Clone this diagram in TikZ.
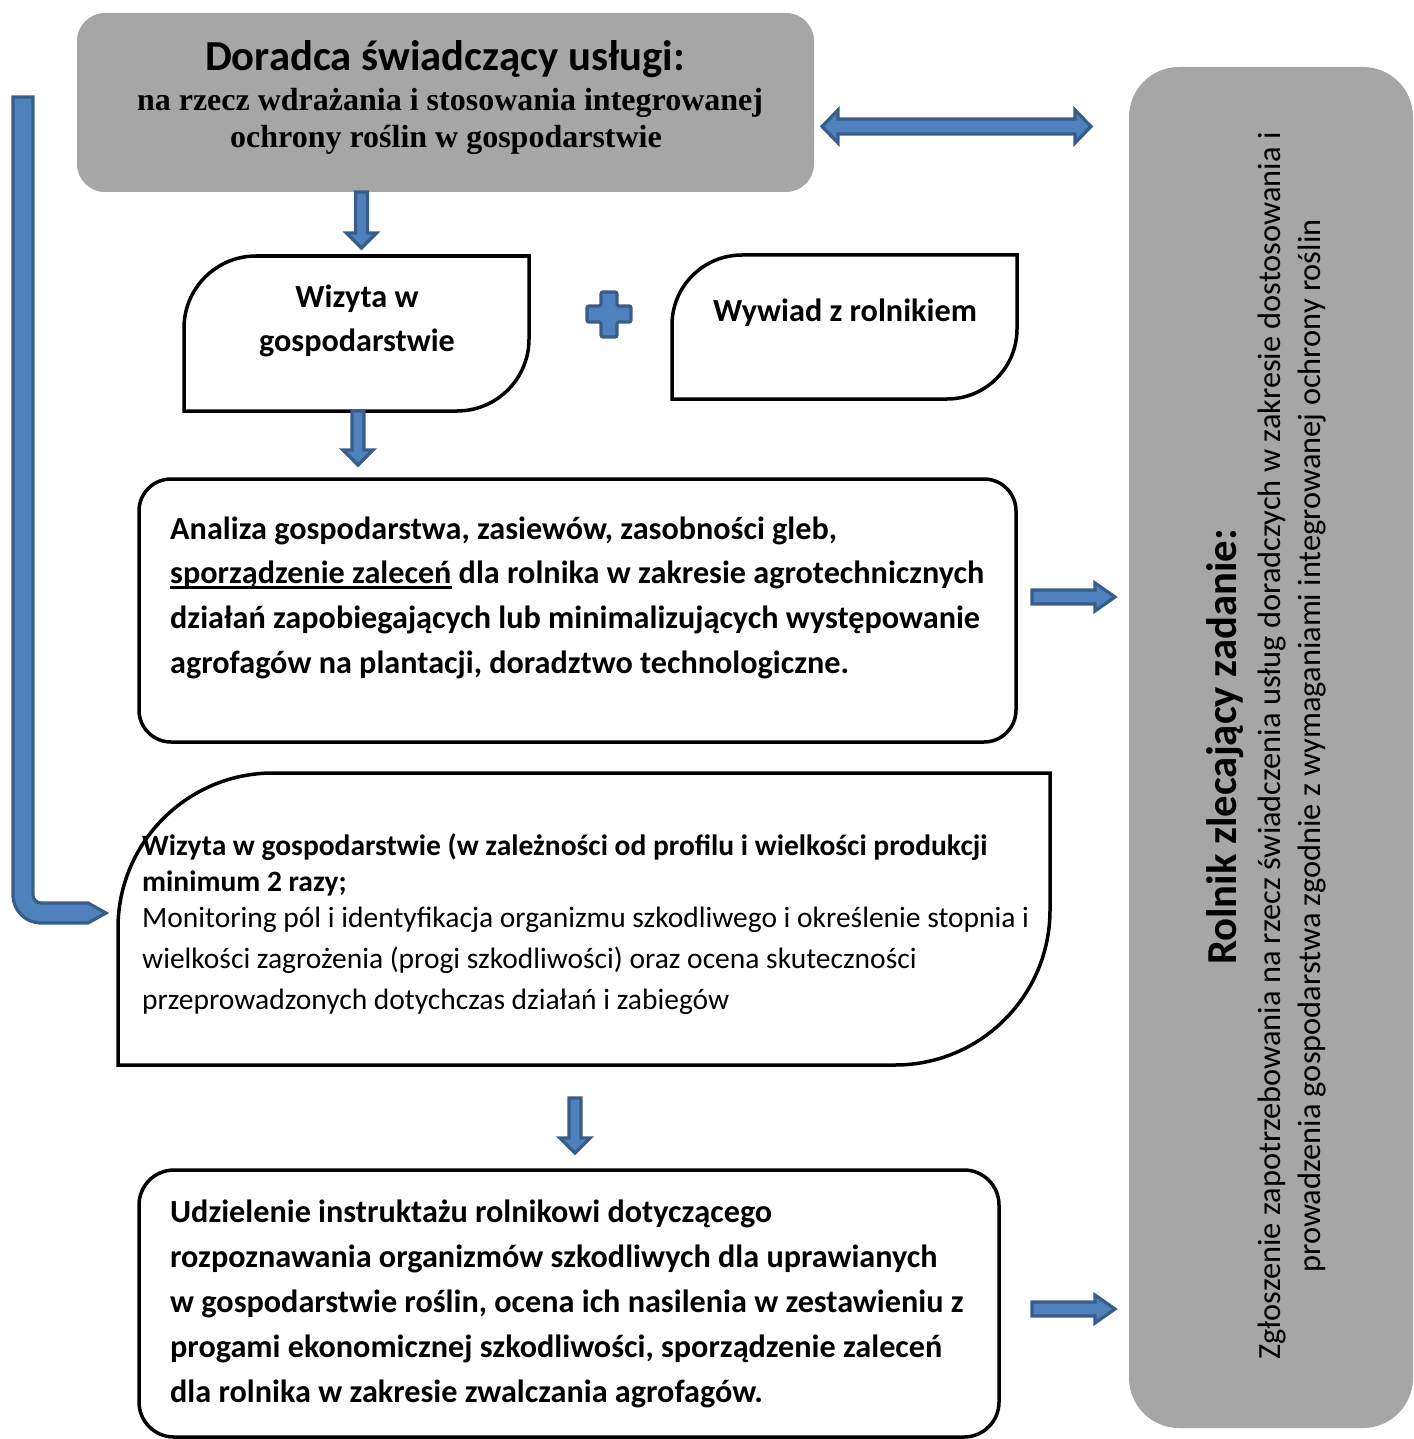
\documentclass[tikz,border=0pt]{standalone}
\usepackage{fontspec}
\setmainfont{Carlito}
\newfontfamily\timesf{Liberation Serif}
\definecolor{grayfill}{HTML}{A6A6A6}
\definecolor{arrfill}{HTML}{4F81BD}
\definecolor{arrline}{HTML}{385D8A}
\newcommand{\thickul}[1]{\setbox0\hbox{#1}\rlap{\vrule height -3.4pt depth 5.6pt width \wd0}\box0\relax}
\newcommand{\blockright}[3]{%
 \draw[arr] (#1,{#3-7}) -- ({#2-20},{#3-7}) -- ({#2-20},{#3-14}) -- (#2,#3) -- ({#2-20},{#3+14}) -- ({#2-20},{#3+7}) -- (#1,{#3+7}) -- cycle;}
\newcommand{\blockdown}[3]{%
 \draw[arr] ({#1-6},#2) -- ({#1+6},#2) -- ({#1+6},{#3-15}) -- ({#1+15},{#3-15}) -- (#1,#3) -- ({#1-15},{#3-15}) -- ({#1-6},{#3-15}) -- cycle;}
\newcommand{\diagbox}[5]{%
 \draw[box] (#1,#4) -- (#1,{#2+#5}) .. controls (#1,{#2+0.4477*#5}) and ({#1+0.4477*#5},#2) .. ({#1+#5},#2) -- (#3,#2) -- (#3,{#4-#5}) .. controls (#3,{#4-0.4477*#5}) and ({#3-0.4477*#5},#4) .. ({#3-#5},#4) -- cycle;}
\begin{document}
\begin{tikzpicture}[x=1pt,y=-1pt,
  arr/.style={fill=arrfill,draw=arrline,line width=3.2pt,line join=miter},
  box/.style={draw=black,line width=3.5pt},
  gbox/.style={fill=grayfill,draw=none,inner sep=0pt},
  wbox/.style={box,fill=white,inner sep=0pt},
  tb/.style={inner sep=0pt,font=\fontsize{32.2}{45}\selectfont\bfseries},
  tbs/.style={inner sep=0pt,font=\fontsize{29.5}{36}\selectfont\bfseries},
  tr/.style={inner sep=0pt,font=\fontsize{29.5}{41}\selectfont},
  tbig/.style={inner sep=0pt,font=\fontsize{42.7}{50}\selectfont\bfseries},
  tserif/.style={inner sep=0pt,font=\timesf\bfseries\fontsize{32}{38}\selectfont},
  trot/.style={inner sep=0pt,rotate=90,anchor=base,font=\fontsize{32.4}{40}\selectfont}]
\useasboundingbox (0,0) rectangle (1413,1439);

% top gray box
\node[gbox,rounded corners=28pt,minimum width=737pt,minimum height=179pt] (doradca) at (445.5,102.5) {};
\node[tbig,anchor=base] (dt1) at (445,71) {Doradca świadczący usługi:};
\node[tserif,anchor=base] (dt2) at (450,111) {na rzecz wdrażania i stosowania integrowanej};
\node[tserif,anchor=base] (dt3) at (446,148) {ochrony roślin w gospodarstwie};

% right gray box
\node[gbox,rounded corners=50pt,minimum width=284pt,minimum height=1361pt] (rolnik) at (1271,747.5) {};
\node[trot,font=\fontsize{42.7}{50}\selectfont\bfseries] (rt1) at (1236,747) {Rolnik zlecający zadanie:};
\node[trot] (rt2) at (1280,746) {Zgłoszenie zapotrzebowania na rzecz świadczenia usług doradczych w zakresie dostosowania i};
\node[trot] (rt3) at (1320,746) {prowadzenia gospodarstwa zgodnie z wymaganiami integrowanej ochrony roślin};

% double arrow
\draw[arr] (822,126.5) -- (838,110) -- (838,119) -- (1075,119) -- (1075,110) -- (1091,126.5) -- (1075,143) -- (1075,134) -- (838,134) -- (838,143) -- cycle;

% small boxes
\diagbox{184}{256}{529}{411}{72}
\coordinate (wiz) at (356.5,333.5);
\node[tb,anchor=base] (w1) at (357,307) {Wizyta w};
\node[tb,anchor=base] (w2) at (357,351) {gospodarstwie};

\diagbox{672}{255}{1017}{399}{70}
\coordinate (wyw) at (844.5,327);
\node[tb,anchor=base] (y1) at (845,321) {Wywiad z rolnikiem};

% plus
\draw[arr,rounded corners=2pt] (601,292) -- (617,292) -- (617,306) -- (631,306) -- (631,322) -- (617,322) -- (617,337) -- (601,337) -- (601,322) -- (587,322) -- (587,306) -- (601,306) -- cycle;

% down arrows
\blockdown{361.5}{192}{248}
\blockdown{358}{411}{465}
\blockdown{575}{1098}{1153}

% Analiza box
\node[wbox,rounded corners=32pt,minimum width=877pt,minimum height=263pt] (analiza) at (577.5,610.5) {};
\node[tb,anchor=base west] (a1) at (170,539) {Analiza gospodarstwa, zasiewów, zasobności gleb,};
\node[tb,anchor=base west] (a2) at (170,583) {\thickul{sporządzenie zaleceń} dla rolnika w zakresie agrotechnicznych};
\node[tb,anchor=base west] (a3) at (170,628) {działań zapobiegających lub minimalizujących występowanie};
\node[tb,anchor=base west] (a4) at (170,673) {agrofagów na plantacji, doradztwo technologiczne.};

% right arrows
\blockright{1032}{1115}{597}
\blockright{1032}{1115}{1309}

% big Wizyta box
\diagbox{118}{773}{1050}{1065}{155}
\coordinate (wizbig) at (584,919);
\node[tbs,anchor=base west] (b1) at (142,855) {Wizyta w gospodarstwie (w zależności od profilu i wielkości produkcji};
\node[tbs,anchor=base west] (b2) at (142,891) {minimum 2 razy;};
\node[tr,anchor=base west] (b3) at (142,927) {Monitoring pól i identyfikacja organizmu szkodliwego i określenie stopnia i};
\node[tr,anchor=base west] (b4) at (142,968) {wielkości zagrożenia (progi szkodliwości) oraz ocena skuteczności};
\node[tr,anchor=base west] (b5) at (142,1009) {przeprowadzonych dotychczas działań i zabiegów};

% L arrow
\draw[arr] (13,97) -- (33,97) -- (33,895) .. controls (33,899.4) and (36.6,903) .. (41,903) -- (88,903) -- (106,913) -- (88,923) -- (41,923) .. controls (25.5,923) and (13,910.5) .. (13,895) -- cycle;

% Udzielenie box
\node[wbox,rounded corners=35pt,minimum width=860pt,minimum height=267pt] (udziel) at (569,1303.5) {};
\node[tb,anchor=base west] (u1) at (170,1222) {Udzielenie instruktażu rolnikowi dotyczącego};
\node[tb,anchor=base west] (u2) at (170,1267) {rozpoznawania organizmów szkodliwych dla uprawianych};
\node[tb,anchor=base west] (u3) at (170,1312) {w gospodarstwie roślin, ocena ich nasilenia w zestawieniu z};
\node[tb,anchor=base west] (u4) at (170,1357) {progami ekonomicznej szkodliwości, sporządzenie zaleceń};
\node[tb,anchor=base west] (u5) at (170,1402) {dla rolnika w zakresie zwalczania agrofagów.};
\end{tikzpicture}
\end{document}
